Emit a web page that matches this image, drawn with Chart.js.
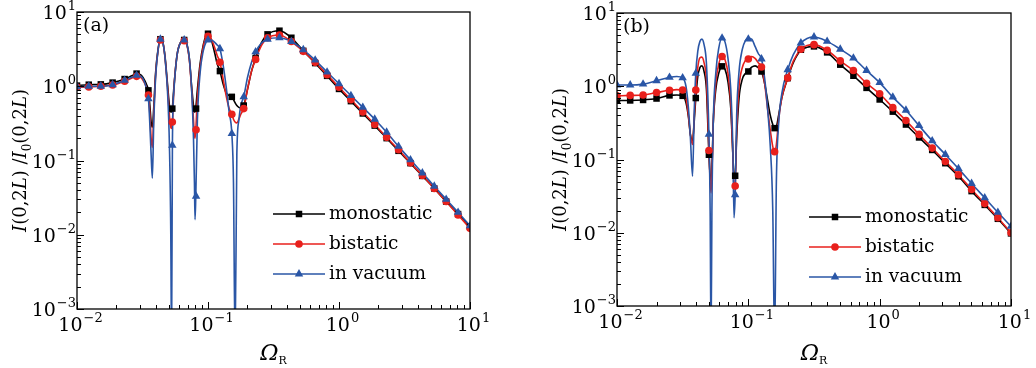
<!DOCTYPE html>
<html>
<head>
<meta charset="utf-8">
<script src="https://cdn.jsdelivr.net/npm/chart.js@4.4.1/dist/chart.umd.min.js"></script>
<style>
html, body { margin: 0; padding: 0; background: #fff; }
#wrap { position: relative; width: 1036px; height: 368px; }
canvas { position: absolute; top: 0; }
#chartA { left: 0; }
#chartB { left: 518px; }
</style>
</head>
<body>
<div id="wrap">
  <canvas id="chartA" width="518" height="368"></canvas>
  <canvas id="chartB" width="518" height="368"></canvas>
</div>
<script>
// ---- panel (a) ----
var aLineX = [0.01, 0.0123, 0.0152, 0.0187, 0.0231, 0.0265, 0.0285, 0.031, 0.033, 0.034, 0.0351, 0.036, 0.0368, 0.0376, 0.0385, 0.0398,
  0.0415, 0.0433, 0.0452, 0.047, 0.049, 0.0508, 0.052, 0.0527, 0.0535, 0.055, 0.058, 0.0618, 0.0658, 0.069, 0.072, 0.075, 0.0775, 0.0788,
  0.0796, 0.0806, 0.083, 0.087, 0.092, 0.097, 0.1, 0.106, 0.1125, 0.1175, 0.1233, 0.13, 0.1375, 0.145, 0.152, 0.1565, 0.161, 0.166, 0.172,
  0.178, 0.1874, 0.2, 0.215, 0.231, 0.255, 0.2848, 0.3511, 0.4329, 0.5337, 0.6579, 0.8111, 1.0, 1.233, 1.52, 1.874, 2.31, 2.848, 3.511,
  4.329, 5.337, 6.579, 8.111, 10];
var aLineMono = [1.02, 1.05, 1.06, 1.12, 1.25, 1.4, 1.48, 1.4, 1.18, 1.05, 0.88, 0.55, 0.33, 0.28, 0.5, 1.5,
  3.1, 4.3, 3.9, 2.5, 1.1, 0.55, 0.45, 0.45, 0.52, 1.0, 2.6, 3.9, 4.2, 3.7, 2.4, 1.0, 0.55, 0.45,
  0.45, 0.5, 0.9, 2.0, 3.6, 4.9, 5.1, 4.2, 2.8, 2.0, 1.6, 1.1, 0.82, 0.75, 0.72, 0.66, 0.6, 0.55, 0.52,
  0.51, 0.55, 0.9, 1.6, 2.4, 3.8, 5.0, 5.6, 4.5, 3.0, 2.05, 1.38, 0.92, 0.63, 0.43, 0.295, 0.2, 0.135, 0.092,
  0.062, 0.042, 0.028, 0.019, 0.0128];
var aLineBi = [0.97, 0.98, 1.0, 1.04, 1.17, 1.3, 1.36, 1.3, 1.08, 0.95, 0.76, 0.42, 0.2, 0.15, 0.4, 1.4,
  3.0, 4.2, 3.9, 2.4, 1.0, 0.4, 0.28, 0.27, 0.33, 0.95, 2.6, 3.9, 4.1, 3.6, 2.3, 0.9, 0.35, 0.22,
  0.2, 0.25, 0.7, 1.8, 3.4, 4.6, 4.7, 4.3, 3.3, 2.6, 2.1, 1.3, 0.75, 0.5, 0.42, 0.36, 0.33, 0.32, 0.36,
  0.42, 0.5, 0.9, 1.6, 2.3, 3.5, 4.5, 4.9, 4.0, 2.95, 2.1, 1.43, 0.97, 0.66, 0.45, 0.305, 0.205, 0.14, 0.093,
  0.063, 0.042, 0.028, 0.0185, 0.0122];
var aLineVac = [0.98, 1.0, 1.0, 1.05, 1.2, 1.33, 1.4, 1.35, 1.1, 0.9, 0.68, 0.3, 0.12, 0.058, 0.3, 1.3,
  3.0, 4.3, 3.9, 2.4, 0.9, 0.15, 0.01, 0.0003, 0.17, 0.9, 2.6, 3.9, 4.2, 3.7, 2.4, 0.9, 0.2, 0.05,
  0.016, 0.03, 0.35, 1.5, 3.0, 4.0, 4.2, 4.2, 3.9, 3.6, 3.2, 2.0, 1.0, 0.45, 0.23, 0.05, 0.0003, 0.12, 0.35,
  0.55, 0.72, 1.3, 2.1, 2.9, 3.8, 4.3, 4.5, 4.0, 3.1, 2.25, 1.55, 1.08, 0.75, 0.52, 0.36, 0.24, 0.155, 0.102,
  0.068, 0.045, 0.03, 0.02, 0.0132];

var aMarkX = [0.01, 0.0123, 0.0152, 0.0187, 0.0231, 0.0285, 0.0351, 0.0433, 0.0534, 0.0658, 0.0811, 0.1, 0.1233, 0.152, 0.1874, 0.231,
  0.2848, 0.3511, 0.4329, 0.5337, 0.6579, 0.8111, 1.0, 1.233, 1.52, 1.874, 2.31, 2.848, 3.511, 4.329, 5.337, 6.579, 8.111, 10];
var aMarkMono = [1.02, 1.05, 1.06, 1.12, 1.25, 1.48, 0.88, 4.3, 0.5, 4.2, 0.5, 5.1, 1.6, 0.72, 0.55, 2.4,
  5.0, 5.6, 4.5, 3.0, 2.05, 1.38, 0.92, 0.63, 0.43, 0.295, 0.2, 0.135, 0.092, 0.062, 0.042, 0.028, 0.019, 0.0128];
var aMarkBi = [0.97, 0.98, 1.0, 1.04, 1.17, 1.36, 0.76, 4.2, 0.33, 4.1, 0.26, 4.7, 2.1, 0.42, 0.5, 2.3,
  4.5, 4.9, 4.0, 2.95, 2.1, 1.43, 0.97, 0.66, 0.45, 0.305, 0.205, 0.14, 0.093, 0.063, 0.042, 0.028, 0.0185, 0.0122];
var aMarkVac = [0.98, 1.0, 1.0, 1.05, 1.2, 1.4, 0.68, 4.3, 0.16, 4.2, 0.033, 4.2, 3.2, 0.23, 0.72, 2.9,
  4.3, 4.5, 4.0, 3.1, 2.25, 1.55, 1.08, 0.75, 0.52, 0.36, 0.24, 0.155, 0.102, 0.068, 0.045, 0.03, 0.02, 0.0132];

// ---- panel (b) ----
var bLineX = [0.01, 0.0126, 0.0158, 0.02, 0.0251, 0.0285, 0.0316, 0.0335, 0.035, 0.0362, 0.0376, 0.0388, 0.0398, 0.0412, 0.0428, 0.0443,
  0.046, 0.048, 0.0501, 0.0512, 0.052, 0.0528, 0.054, 0.0565, 0.0595, 0.0631, 0.0665, 0.07, 0.0735, 0.0762, 0.0778, 0.0794, 0.0815,
  0.085, 0.09, 0.095, 0.1, 0.106, 0.1125, 0.119, 0.1259, 0.133, 0.14, 0.147, 0.1535, 0.1585, 0.1635, 0.17, 0.18, 0.1995, 0.22, 0.2512,
  0.28, 0.3162, 0.3981, 0.5012, 0.631, 0.7943, 1.0, 1.259, 1.585, 1.995, 2.512, 3.162, 3.981, 5.012, 6.31, 7.943, 10];
var bLineMono = [0.64, 0.64, 0.65, 0.68, 0.75, 0.76, 0.74, 0.6, 0.38, 0.22, 0.18, 0.35, 0.69, 1.35, 1.8, 1.9,
  1.6, 0.9, 0.12, 0.06, 0.05, 0.07, 0.3, 0.9, 1.5, 1.87, 1.7, 1.15, 0.5, 0.12, 0.06, 0.06, 0.2,
  0.7, 1.25, 1.5, 1.62, 1.82, 1.9, 1.8, 1.59, 1.1, 0.65, 0.4, 0.3, 0.268, 0.28, 0.4, 0.7, 1.29, 2.1, 3.1,
  3.4, 3.5, 2.9, 1.97, 1.39, 0.95, 0.66, 0.45, 0.3, 0.2, 0.135, 0.089, 0.059, 0.037, 0.024, 0.0155, 0.0098];
var bLineBi = [0.74, 0.75, 0.76, 0.82, 0.88, 0.9, 0.89, 0.7, 0.4, 0.22, 0.16, 0.4, 0.89, 1.8, 2.45, 2.5,
  2.1, 1.2, 0.14, 0.05, 0.035, 0.06, 0.3, 1.1, 2.0, 2.55, 2.3, 1.5, 0.6, 0.12, 0.04, 0.0435, 0.25,
  1.0, 1.8, 2.25, 2.4, 2.55, 2.4, 2.1, 1.83, 1.1, 0.5, 0.25, 0.15, 0.128, 0.16, 0.35, 0.7, 1.3, 2.2, 3.2,
  3.6, 3.7, 3.1, 2.22, 1.64, 1.1, 0.79, 0.51, 0.34, 0.22, 0.143, 0.094, 0.062, 0.039, 0.025, 0.016, 0.01];
var bLineVac = [1.04, 1.04, 1.07, 1.19, 1.32, 1.36, 1.3, 1.0, 0.5, 0.2, 0.059, 0.5, 1.5, 3.0, 4.1, 4.4,
  3.7, 2.0, 0.22, 0.02, 0.0003, 0.02, 0.3, 1.5, 3.3, 4.55, 4.0, 2.4, 0.9, 0.15, 0.016, 0.033, 0.4,
  1.6, 3.2, 4.2, 4.5, 4.4, 3.5, 2.8, 2.36, 1.3, 0.5, 0.15, 0.02, 0.0003, 0.05, 0.3, 0.8, 1.68, 2.7, 3.9,
  4.5, 4.7, 4.1, 3.2, 2.42, 1.64, 1.12, 0.71, 0.47, 0.29, 0.18, 0.117, 0.075, 0.047, 0.03, 0.019, 0.0122];

var bMarkX = [0.01, 0.0126, 0.0158, 0.02, 0.0251, 0.0316, 0.0398, 0.0501, 0.0631, 0.0794, 0.1, 0.1259, 0.1585, 0.1995, 0.2512, 0.3162,
  0.3981, 0.5012, 0.631, 0.7943, 1.0, 1.259, 1.585, 1.995, 2.512, 3.162, 3.981, 5.012, 6.31, 7.943, 10];
var bMarkMono = [0.64, 0.64, 0.65, 0.68, 0.75, 0.74, 0.69, 0.116, 1.87, 0.06, 1.59, 1.59, 0.268, 1.29, 3.15, 3.5,
  2.9, 1.97, 1.39, 0.95, 0.66, 0.45, 0.30, 0.20, 0.135, 0.089, 0.059, 0.037, 0.024, 0.0155, 0.0098];
var bMarkBi = [0.74, 0.75, 0.76, 0.82, 0.88, 0.89, 0.89, 0.133, 2.55, 0.0435, 2.35, 1.83, 0.128, 1.3, 3.2, 3.7,
  3.1, 2.22, 1.64, 1.10, 0.79, 0.51, 0.34, 0.22, 0.143, 0.094, 0.062, 0.039, 0.025, 0.016, 0.010];
var bMarkVac = [1.04, 1.04, 1.07, 1.19, 1.32, 1.30, 1.5, 0.22, 4.55, 0.033, 4.4, 2.36, 0.0003, 1.68, 3.9, 4.7,
  4.1, 3.2, 2.42, 1.64, 1.12, 0.71, 0.47, 0.29, 0.18, 0.117, 0.075, 0.047, 0.030, 0.019, 0.0122];

var seriesNames = ['monostatic', 'bistatic', 'in vacuum'];
var xDecades = [-2, -1, 0, 1];
var yDecades = [-3, -2, -1, 0, 1];

var FONT = '"DejaVu Serif", "Liberation Serif", serif';
var COLORS = ['#000000', '#e8201c', '#2a56a6'];
var STYLES = ['rect', 'circle', 'triangle'];
var RADII = [4.6, 3.8, 4.9];

function pts(xs, ys) {
	return xs.map(function (x, i) { return { x: x, y: ys[i] }; });
}

function lineSet(xs, ys, s) {
	return { data: pts(xs, ys), borderColor: COLORS[s], borderWidth: 1.6, pointRadius: 0,
		cubicInterpolationMode: 'monotone', fill: false };
}

function markSet(xs, ys, s) {
	return { data: pts(xs, ys), showLine: false, pointStyle: STYLES[s], pointRadius: RADII[s],
		backgroundColor: COLORS[s], borderColor: COLORS[s], borderWidth: 0 };
}

function drawMarker(ctx, s, x, y) {
	var r = RADII[s];
	ctx.fillStyle = COLORS[s];
	ctx.beginPath();
	if (s == 0) {
		var h = r * Math.SQRT1_2;
		ctx.rect(x - h, y - h, 2 * h, 2 * h);
	} else if (s == 1) {
		ctx.arc(x, y, r, 0, Math.PI * 2);
	} else {
		ctx.moveTo(x, y - r);
		ctx.lineTo(x + r * 0.866, y + r * 0.5);
		ctx.lineTo(x - r * 0.866, y + r * 0.5);
		ctx.closePath();
	}
	ctx.fill();
}

// "10" with a raised exponent
function drawPow(ctx, exp, x, y, align) {
	var base = '10', sup = (exp < 0 ? '\u2212' : '') + Math.abs(exp);
	ctx.font = '19px ' + FONT;
	var wb = ctx.measureText(base).width;
	ctx.font = '13px ' + FONT;
	var ws = ctx.measureText(sup).width;
	var x0 = align == 'center' ? x - (wb + ws) / 2 : x - wb - ws;
	ctx.textAlign = 'left';
	ctx.textBaseline = 'alphabetic';
	ctx.font = '19px ' + FONT;
	ctx.fillText(base, x0, y);
	ctx.font = '13px ' + FONT;
	ctx.fillText(sup, x0 + wb + 1, y - 9);
}

function drawRuns(ctx, runs, x, y) {
	var cx = x;
	runs.forEach(function (r) {
		ctx.font = r[1];
		ctx.fillText(r[0], cx, y + (r[2] || 0));
		cx += ctx.measureText(r[0]).width;
	});
	return cx - x;
}

function runsWidth(ctx, runs) {
	var w = 0;
	runs.forEach(function (r) { ctx.font = r[1]; w += ctx.measureText(r[0]).width; });
	return w;
}

var deco = {
	id: 'deco',
	afterDraw: function (chart, args, opts) {
		var ctx = chart.ctx, a = chart.chartArea;
		var xs = chart.scales.x, ys = chart.scales.y;
		ctx.save();
		ctx.fillStyle = '#000';
		ctx.strokeStyle = '#000';

		// frame
		ctx.lineWidth = 1.3;
		ctx.strokeRect(a.left, a.top, a.right - a.left, a.bottom - a.top);

		// inward ticks on bottom and left
		ctx.lineWidth = 1;
		ctx.beginPath();
		xDecades.forEach(function (e) {
			for (var m = 1; m < 10; m++) {
				var v = m * Math.pow(10, e);
				if (v > 10.001) break;
				var px = Math.round(xs.getPixelForValue(v)) + 0.5;
				ctx.moveTo(px, a.bottom);
				ctx.lineTo(px, a.bottom - (m == 1 ? 7 : 4));
			}
		});
		yDecades.forEach(function (e) {
			for (var m = 1; m < 10; m++) {
				var v = m * Math.pow(10, e);
				if (v > 10.001) break;
				var py = Math.round(ys.getPixelForValue(v)) + 0.5;
				ctx.moveTo(a.left, py);
				ctx.lineTo(a.left + (m == 1 ? 7 : 4), py);
			}
		});
		ctx.stroke();

		// tick labels
		xDecades.forEach(function (e) {
			drawPow(ctx, e, xs.getPixelForValue(Math.pow(10, e)) + 3, a.bottom + 22, 'center');
		});
		yDecades.forEach(function (e) {
			drawPow(ctx, e, a.left - 2, ys.getPixelForValue(Math.pow(10, e)) + 7, 'right');
		});

		// x title: Omega_R
		var xr = [['\u03A9', 'italic 22px ' + FONT], ['R', '11px ' + FONT, 4]];
		var xw = runsWidth(ctx, xr);
		drawRuns(ctx, xr, (a.left + a.right) / 2 - xw / 2, 360);

		// y title
		var it = 'italic 18px ' + FONT, rm = '18px ' + FONT;
		var yr = [['I', it], ['(0,2', rm], ['L', it], [') /', rm], ['I', it], ['0', '12px ' + FONT, 5],
			['(0,2', rm], ['L', it], [')', rm]];
		var yw = runsWidth(ctx, yr);
		ctx.save();
		ctx.translate(a.left - 51, (a.top + a.bottom) / 2);
		ctx.rotate(-Math.PI / 2);
		drawRuns(ctx, yr, -yw / 2, 0);
		ctx.restore();

		// panel letter
		ctx.font = '19px ' + FONT;
		ctx.fillText(opts.letter, a.left + 6, a.top + 19);

		// legend
		var lx = a.right - opts.legX;
		seriesNames.forEach(function (name, s) {
			var ly = a.bottom - opts.legY + s * 30;
			ctx.strokeStyle = COLORS[s];
			ctx.lineWidth = 1.5;
			ctx.beginPath();
			ctx.moveTo(lx, ly);
			ctx.lineTo(lx + 52, ly);
			ctx.stroke();
			drawMarker(ctx, s, lx + 26, ly);
			ctx.fillStyle = '#000';
			ctx.font = '18.5px ' + FONT;
			ctx.fillText(name, lx + 56, ly + 5);
		});
		ctx.restore();
	}
};

function makeChart(id, lineX, lines, markX, marks, pad, letter, legX, legY) {
	var datasets = [];
	// markers over lines, in vacuum on top
	for (var s = 2; s >= 0; s--) datasets.push(markSet(markX, marks[s], s));
	for (var s = 2; s >= 0; s--) datasets.push(lineSet(lineX, lines[s], s));
	return new Chart(document.getElementById(id), {
		type: 'line',
		data: { datasets: datasets },
		options: {
			responsive: false,
			animation: false,
			layout: { padding: pad },
			plugins: { legend: { display: false }, tooltip: { enabled: false },
				deco: { letter: letter, legX: legX, legY: legY } },
			scales: {
				x: { type: 'logarithmic', min: 0.01, max: 10, display: false },
				y: { type: 'logarithmic', min: 0.001, max: 10, display: false }
			}
		},
		plugins: [deco]
	});
}

makeChart('chartA', aLineX, [aLineMono, aLineBi, aLineVac], aMarkX, [aMarkMono, aMarkBi, aMarkVac],
	{ left: 77, right: 48, top: 12, bottom: 59 }, '(a)', 197, 95);
makeChart('chartB', bLineX, [bLineMono, bLineBi, bLineVac], bMarkX, [bMarkMono, bMarkBi, bMarkVac],
	{ left: 99, right: 25, top: 13, bottom: 62 }, '(b)', 202, 89);
</script>
</body>
</html>
